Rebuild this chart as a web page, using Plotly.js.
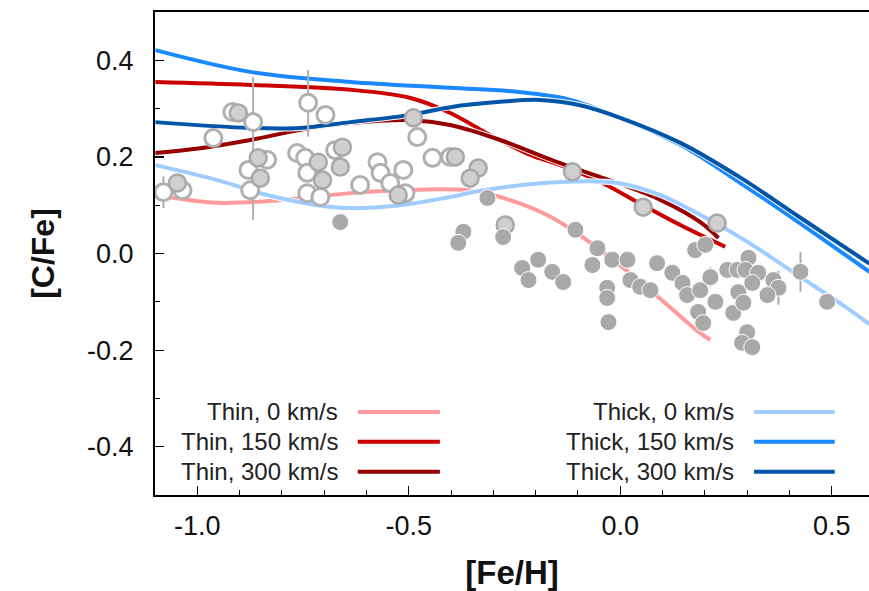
<!DOCTYPE html>
<html>
<head>
<meta charset="utf-8">
<script src="https://cdn.plot.ly/plotly-3.0.1.min.js"></script>
<style>
html,body{margin:0;padding:0;background:#fff;}
#chart{width:869px;height:591px;}
</style>
</head>
<body>
<div id="chart"></div>
<script>
// ---- model curves ([Fe/H], [C/Fe]) ----
var thin0X   = [-1.099,-0.953,-0.797,-0.638,-0.520,-0.362,-0.284,-0.165,-0.047,0.071,0.189,0.213];
var thin0Y   = [0.121,0.105,0.111,0.125,0.131,0.131,0.117,0.076,0.007,-0.076,-0.165,-0.179];
var thin150X = [-1.099,-0.875,-0.638,-0.496,-0.402,-0.307,-0.213,-0.142,-0.047,0.054,0.142,0.248];
var thin150Y = [0.355,0.349,0.339,0.322,0.291,0.245,0.204,0.183,0.148,0.100,0.059,0.014];
var thin300X = [-1.099,-0.993,-0.875,-0.757,-0.638,-0.496,-0.402,-0.284,-0.142,-0.007,0.095,0.189,0.232];
var thin300Y = [0.208,0.218,0.235,0.256,0.270,0.276,0.266,0.235,0.187,0.146,0.111,0.065,0.032];
var thick0X  = [-1.099,-0.953,-0.835,-0.716,-0.638,-0.520,-0.402,-0.324,-0.142,-0.007,0.095,0.189,0.253,0.331,0.426,0.508,0.589];
var thick0Y  = [0.183,0.152,0.121,0.100,0.094,0.100,0.117,0.131,0.148,0.146,0.121,0.080,0.049,0.007,-0.049,-0.096,-0.146];
var thick150X = [-1.099,-0.875,-0.638,-0.402,-0.236,-0.118,0.0,0.142,0.284,0.426,0.589];
var thick150Y = [0.421,0.376,0.355,0.343,0.334,0.318,0.281,0.225,0.146,0.062,-0.038];
var thick300X = [-1.099,-0.875,-0.757,-0.638,-0.496,-0.402,-0.284,-0.189,-0.095,0.0,0.142,0.284,0.426,0.589];
var thick300Y = [0.272,0.260,0.260,0.272,0.287,0.303,0.314,0.318,0.307,0.281,0.229,0.157,0.074,-0.021];

var seriesNames = ["Thin, 0 km/s","Thin, 150 km/s","Thin, 300 km/s","Thick, 0 km/s","Thick, 150 km/s","Thick, 300 km/s"];

// ---- observed stars ----
var openX = [-1.080,-1.035,-0.962,-0.917,-0.868,-0.879,-0.835,-0.875,-0.738,-0.697,-0.764,-0.745,-0.740,-0.740,-0.709,-0.674,-0.615,-0.574,-0.567,-0.544,-0.513,-0.508,-0.480,-0.444,-0.402];
var openY = [0.127,0.131,0.239,0.293,0.272,0.173,0.194,0.131,0.312,0.287,0.208,0.198,0.167,0.125,0.117,0.214,0.142,0.189,0.167,0.146,0.173,0.125,0.241,0.198,0.200];
var openErrPlus  = [0.033,0,0,0,0.093,0,0,0,0.068,0,0,0,0,0,0,0,0,0,0,0,0,0,0,0,0];
var openErrMinus = [0.033,0,0,0,0.203,0,0,0,0.070,0,0,0,0,0,0,0,0,0,0,0,0,0,0,0,0];

var lightX = [-1.047,-0.903,-0.856,-0.851,-0.714,-0.704,-0.657,-0.662,-0.525,-0.489,-0.390,-0.336,-0.355,-0.113,0.054,0.229,-0.272];
var lightY = [0.146,0.291,0.198,0.156,0.189,0.152,0.220,0.179,0.121,0.281,0.200,0.177,0.156,0.169,0.096,0.063,0.059];

var darkX = [-0.662,-0.314,-0.371,-0.383,-0.277,-0.232,-0.194,-0.217,-0.161,-0.135,-0.106,-0.054,-0.066,-0.019,0.017,-0.031,-0.031,-0.028,0.024,0.047,0.071,0.087,0.123,0.147,0.158,0.189,0.177,0.201,0.213,0.225,0.184,0.196,0.267,0.253,0.277,0.279,0.291,0.303,0.300,0.288,0.296,0.326,0.312,0.362,0.374,0.348,0.312,0.426,0.489];
var darkY = [0.065,0.115,0.045,0.022,0.034,-0.030,-0.013,-0.055,-0.038,-0.059,0.049,0.011,-0.024,-0.013,-0.013,-0.071,-0.092,-0.142,-0.055,-0.069,-0.076,-0.020,-0.040,-0.061,-0.086,-0.076,0.007,0.018,-0.049,-0.100,-0.121,-0.144,-0.123,-0.034,-0.034,-0.080,-0.102,-0.009,-0.163,-0.185,-0.034,-0.040,-0.061,-0.055,-0.071,-0.086,-0.194,-0.038,-0.100];
var darkErr = [0,0,0,0,0,0,0,0,0,0,0,0,0,0,0,0,0,0,0,0,0,0,0,0,0,0,0,0,0.02,0,0,0,0,0,0,0,0,0,0,0,0,0,0,0,0.035,0,0,0.041,0];

var xTickVals = [-1.0,-0.5,0.0,0.5];
var xTickText = ["-1.0","-0.5","0.0","0.5"];
var yTickVals = [-0.4,-0.2,0.0,0.2,0.4];
var yTickText = ["-0.4","-0.2","0.0","0.2","0.4"];

var colors = ["#ff9a9a","#cc0000","#960000","#9fcdff","#1a88ff","#0055a8"];
var curvesX = [thin0X,thin150X,thin300X,thick0X,thick150X,thick300X];
var curvesY = [thin0Y,thin150Y,thin300Y,thick0Y,thick150Y,thick300Y];

var traces = [];
// thin white casing under each curve, then the coloured curve
for (var i = 0; i < 6; i++) {
  traces.push({x: curvesX[i], y: curvesY[i], mode: "lines", showlegend: false,
    line: {color: "#ffffff", width: 6, shape: "spline", smoothing: 1}, hoverinfo: "skip"});
  traces.push({x: curvesX[i], y: curvesY[i], mode: "lines", name: seriesNames[i],
    line: {color: colors[i], width: 4, shape: "spline", smoothing: 1}, hoverinfo: "skip"});
}
traces.push({x: openX, y: openY, mode: "markers", type: "scatter",
  marker: {size: 17, color: "#ffffff", line: {color: "#b0b0b0", width: 3}},
  error_y: {type: "data", symmetric: false, array: openErrPlus, arrayminus: openErrMinus, color: "#b0b0b0", thickness: 2, width: 0}});
traces.push({x: lightX, y: lightY, mode: "markers", type: "scatter",
  marker: {size: 17, color: "#cfcfcf", line: {color: "#a8a8a8", width: 2.5}}});
traces.push({x: darkX, y: darkY, mode: "markers", type: "scatter",
  marker: {size: 17, color: "#a9a9a9", line: {color: "#ffffff", width: 1}},
  error_y: {type: "data", array: darkErr, color: "#a9a9a9", thickness: 2, width: 0}});

// legend (two columns, text right-aligned with line sample on right)
var legRowY = [0.172, 0.110, 0.048];
var annotations = [], shapes = [];
for (var k = 0; k < 6; k++) {
  var col = k < 3 ? 0 : 1, row = k % 3;
  var textX = col === 0 ? 0.259 : 0.814;
  var lx0 = col === 0 ? 0.284 : 0.839, lx1 = col === 0 ? 0.399 : 0.952;
  annotations.push({xref: "paper", yref: "paper", x: textX, y: legRowY[row], xanchor: "right", yanchor: "middle",
    text: seriesNames[k], showarrow: false, font: {family: "Liberation Sans, Arial, sans-serif", size: 24, color: "#222"}});
  shapes.push({type: "line", xref: "paper", yref: "paper", x0: lx0, x1: lx1, y0: legRowY[row], y1: legRowY[row],
    line: {color: colors[k], width: 4}});
}

var layout = {
  width: 869, height: 591,
  margin: {l: 155, r: 0, t: 12, b: 96, pad: 0},
  paper_bgcolor: "#fff", plot_bgcolor: "#fff",
  showlegend: false,
  font: {family: "Liberation Sans, Arial, sans-serif", color: "#111"},
  xaxis: {range: [-1.1, 0.588], tickmode: "array", tickvals: xTickVals, ticktext: xTickText,
    ticks: "inside", ticklen: 9, tickwidth: 1.2, tickcolor: "#000",
    minor: {dtick: 0.1, tick0: 0, ticks: "inside", ticklen: 5, tickcolor: "#000", tickwidth: 1},
    showline: true, linecolor: "#000", linewidth: 2, mirror: true, showgrid: false, zeroline: false,
    tickfont: {size: 27, color: "#111"}, ticklabelstandoff: 6,
    title: {text: "<b>[Fe/H]</b>", font: {size: 33, color: "#111"}, standoff: 20}},
  yaxis: {range: [-0.5, 0.5], tickmode: "array", tickvals: yTickVals, ticktext: yTickText,
    ticks: "inside", ticklen: 9, tickwidth: 1.2, tickcolor: "#000",
    minor: {dtick: 0.1, tick0: 0, ticks: "inside", ticklen: 5, tickcolor: "#000", tickwidth: 1},
    showline: true, linecolor: "#000", linewidth: 2, showgrid: false, zeroline: false,
    tickfont: {size: 27, color: "#111"}, ticklabelstandoff: 14,
    title: {text: "<b>[C/Fe]</b>", font: {size: 32, color: "#111"}, standoff: 23}},
  annotations: annotations,
  shapes: shapes
};

Plotly.newPlot("chart", traces, layout, {staticPlot: true, displayModeBar: false});
</script>
</body>
</html>
